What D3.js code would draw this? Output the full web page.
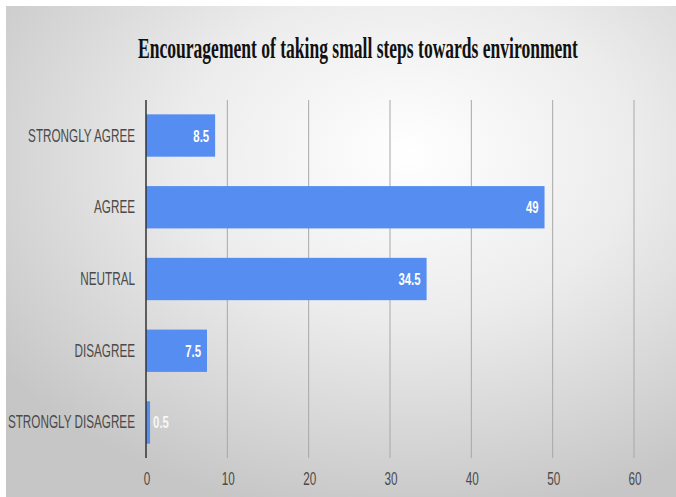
<!DOCTYPE html>
<html>
<head>
<meta charset="utf-8">
<script src="https://cdn.jsdelivr.net/npm/d3@7"></script>
<style>
  html, body { margin: 0; padding: 0; background: #fff; }
</style>
</head>
<body>
<div id="chart-area"></div>
<script>
const categories = ["STRONGLY AGREE", "AGREE", "NEUTRAL", "DISAGREE", "STRONGLY DISAGREE"]
const values = [8.5, 49, 34.5, 7.5, 0.5]
const xTicks = [0, 10, 20, 30, 40, 50, 60]
const title = "Encouragement of taking small steps towards environment"

const W = 676, H = 497
const PLOT = { LEFT: 146, RIGHT: 634, TOP: 100, BOTTOM: 458 }
const SQUISH = 0.67

const svg = d3.select("#chart-area").append("svg")
  .attr("width", W)
  .attr("height", H)

// background gradient
const defs = svg.append("defs")
const grad = defs.append("radialGradient")
  .attr("id", "bg")
  .attr("cx", "0.6").attr("cy", "0.3").attr("r", "0.75")
grad.append("stop").attr("offset", "0").attr("stop-color", "#ffffff")
grad.append("stop").attr("offset", "0.45").attr("stop-color", "#ececec")
grad.append("stop").attr("offset", "1").attr("stop-color", "#c6c6c6")

svg.append("rect")
  .attr("x", 6).attr("y", 6)
  .attr("width", W - 6).attr("height", H - 6)
  .attr("fill", "url(#bg)")

// title, squeezed to the reference width
const titleText = svg.append("text")
  .attr("text-anchor", "middle")
  .attr("font-family", "Liberation Serif, Times New Roman, serif")
  .attr("font-weight", "bold")
  .attr("font-size", "30px")
  .attr("fill", "#111")
  .text(title)
const tw = titleText.node().getComputedTextLength()
titleText.attr("transform", `translate(358,58) scale(${440 / tw},1)`)

const x = d3.scaleLinear()
  .domain([0, 60])
  .range([PLOT.LEFT, PLOT.RIGHT])

const y = d3.scaleBand()
  .domain(categories)
  .range([PLOT.TOP, PLOT.BOTTOM])
  .paddingInner(0.41)
  .paddingOuter(0.2)

// gridlines
svg.append("g")
  .selectAll("line")
  .data(xTicks.slice(1))
  .enter().append("line")
    .attr("x1", d => x(d)).attr("x2", d => x(d))
    .attr("y1", PLOT.TOP).attr("y2", PLOT.BOTTOM)
    .attr("stroke", "#a8a8a8")
    .attr("stroke-width", 1)

// bars
svg.append("g")
  .selectAll("rect")
  .data(categories)
  .enter().append("rect")
    .attr("x", x(0))
    .attr("y", d => y(d))
    .attr("width", (d, i) => x(values[i]) - x(0))
    .attr("height", y.bandwidth())
    .attr("fill", "#558df0")

// vertical axis line
svg.append("line")
  .attr("x1", x(0)).attr("x2", x(0))
  .attr("y1", PLOT.TOP).attr("y2", PLOT.BOTTOM)
  .attr("stroke", "#333")
  .attr("stroke-width", 1.5)

const narrow = (sel, px, py) => sel.attr("transform", `translate(${px},${py}) scale(${SQUISH},1)`)

// category labels
svg.append("g")
  .selectAll("text")
  .data(categories)
  .enter().append("text")
    .each(function (d) {
      narrow(d3.select(this), 135, y(d) + y.bandwidth() / 2 + 6)
    })
    .attr("text-anchor", "end")
    .attr("font-family", "Liberation Sans, Arial, sans-serif")
    .attr("font-size", "17.5px")
    .attr("fill", "#4a4a4a")
    .text(d => d)

// value labels
svg.append("g")
  .selectAll("text")
  .data(categories)
  .enter().append("text")
    .each(function (d, i) {
      const inside = values[i] > 3
      const px = inside ? x(values[i]) - 6 : x(values[i]) + 3
      narrow(d3.select(this), px, y(d) + y.bandwidth() / 2 + 6)
      d3.select(this)
        .attr("text-anchor", inside ? "end" : "start")
        .attr("fill-opacity", inside ? 1 : 0.85)
    })
    .attr("font-family", "Liberation Sans, Arial, sans-serif")
    .attr("font-weight", "bold")
    .attr("font-size", "17px")
    .attr("fill", "#ffffff")
    .text((d, i) => values[i])

// x tick labels
svg.append("g")
  .selectAll("text")
  .data(xTicks)
  .enter().append("text")
    .each(function (d) {
      narrow(d3.select(this), x(d) + 1, 485)
    })
    .attr("text-anchor", "middle")
    .attr("font-family", "Liberation Sans, Arial, sans-serif")
    .attr("font-size", "17.5px")
    .attr("fill", "#4a4a4a")
    .text(d => d)
</script>
</body>
</html>
